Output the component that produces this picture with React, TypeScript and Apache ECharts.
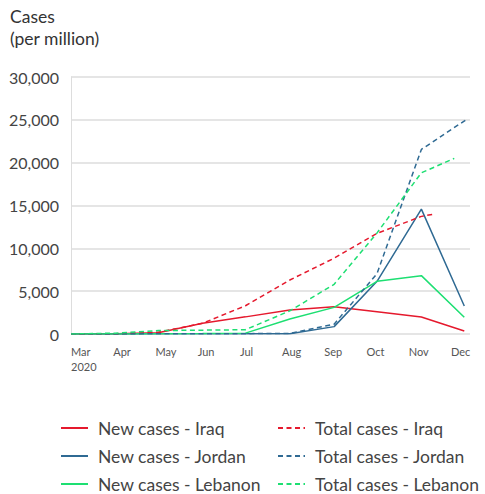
import React, { useEffect, useRef } from "react";
import * as echarts from "echarts";

const monthDates = [
  "2020-03-01", "2020-04-01", "2020-05-01", "2020-06-01", "2020-07-01",
  "2020-08-01", "2020-09-01", "2020-10-01", "2020-11-01", "2020-12-01",
];
const monthLabels = ["Mar\n2020", "Apr", "May", "Jun", "Jul", "Aug", "Sep", "Oct", "Nov", "Dec"];

const iraqNew = [0, 20, 150, 1250, 2000, 2800, 3190, 2600, 1980, 350];
const jordanNew = [0, 5, 20, 20, 30, 30, 860, 6150, 14580, 3270];
const lebanonNew = [0, 10, 30, 50, 100, 1750, 3110, 6150, 6810, 1950];

const iraqTotal = [0, 30, 200, 1250, 3300, 6300, 8850, 11750, 13730];
const jordanTotal = [0, 5, 20, 30, 40, 60, 1150, 7050, 21550];
const lebanonTotal = [0, 100, 400, 450, 500, 2700, 5800, 11800, 18820];
const iraqTotalLast = ["2020-11-09", 13970];
const jordanTotalLast = ["2020-12-03", 25090];
const lebanonTotalLast = ["2020-11-24", 20500];

const yTicks = [0, 5000, 10000, 15000, 20000, 25000, 30000];

const newNames = ["New cases - Iraq", "New cases - Jordan", "New cases - Lebanon"];
const totalNames = ["Total cases - Iraq", "Total cases - Jordan", "Total cases - Lebanon"];

const RED = "#e5192d";
const BLUE = "#2f6a93";
const GREEN = "#1ddf72";
const FONT = "Lato";

function pairs(values: number[], last?: (string | number)[]) {
  const d: (string | number)[][] = values.map((v, i) => [monthDates[i], v]);
  if (last) d.push(last);
  return d;
}

export default function App() {
  const ref = useRef<HTMLDivElement>(null);
  useEffect(() => {
    if (!ref.current) return;
    const chart = echarts.init(ref.current, undefined, { renderer: "svg" });
    const lineSeries = (name: string, color: string, data: any[], dashed: boolean) => ({
      name,
      type: "line",
      xAxisIndex: 0,
      yAxisIndex: 0,
      data,
      symbol: "none",
      color,
      lineStyle: { color, width: 1.5, type: dashed ? [5, 3.5] : "solid" },
    });
    const rowTops = [419, 447, 475];
    const legendItem = (name: string, left: number, top: number) => ({
      data: [name],
      left,
      top,
      padding: 0,
      itemWidth: 27,
      itemHeight: 14,
      itemStyle: { opacity: 0 },
      textStyle: { fontSize: 17.5, lineHeight: 18, color: "#444", fontFamily: FONT, padding: [0, 0, 0, 5] },
    });
    const legends = [
      ...newNames.map((n, i) => legendItem(n, 60, rowTops[i])),
      ...totalNames.map((n, i) => legendItem(n, 277, rowTops[i])),
    ];
    chart.setOption({
      animation: false,
      textStyle: { fontFamily: FONT },
      title: {
        text: "Cases\n(per million)",
        left: 10,
        top: 5,
        padding: 0,
        textStyle: { fontFamily: FONT, fontSize: 17.5, lineHeight: 22, fontWeight: "normal", color: "#333" },
      },
      grid: [
        { left: 71, right: 15, top: 77, bottom: 160 },
        { left: 71, right: 34, top: 77, bottom: 160 },
      ],
      xAxis: [
        {
          type: "time",
          gridIndex: 0,
          min: "2020-03-01",
          max: "2020-12-05",
          axisLine: { show: false },
          axisTick: { show: false },
          axisLabel: { show: false },
          splitLine: { show: false },
        },
        {
          type: "category",
          gridIndex: 1,
          data: monthLabels,
          boundaryGap: false,
          axisLine: { show: false },
          axisTick: { show: false },
          splitLine: { show: false },
          axisLabel: {
            align: "left",
            fontSize: 11,
            lineHeight: 15,
            color: "#555",
            margin: 10,
            fontFamily: FONT,
            interval: 0,
          },
        },
      ],
      yAxis: [
        {
          type: "value",
          gridIndex: 0,
          min: yTicks[0],
          max: yTicks[yTicks.length - 1],
          interval: yTicks[1] - yTicks[0],
          axisLine: { show: true, lineStyle: { color: "#ddd", width: 1 } },
          axisTick: { show: false },
          splitLine: { lineStyle: { color: "#ddd", width: 1.5 } },
          axisLabel: {
            fontSize: 16,
            color: "#444",
            margin: 12,
            fontFamily: FONT,
            formatter: (v: number) => v.toLocaleString("en-US"),
          },
        },
        { type: "value", gridIndex: 1, show: false, min: 0, max: 1 },
      ],
      legend: legends,
      series: [
        lineSeries(newNames[0], RED, pairs(iraqNew), false),
        lineSeries(newNames[1], BLUE, pairs(jordanNew), false),
        lineSeries(newNames[2], GREEN, pairs(lebanonNew), false),
        lineSeries(totalNames[0], RED, pairs(iraqTotal, iraqTotalLast), true),
        lineSeries(totalNames[1], BLUE, pairs(jordanTotal, jordanTotalLast), true),
        lineSeries(totalNames[2], GREEN, pairs(lebanonTotal, lebanonTotalLast), true),
      ],
    });
    return () => chart.dispose();
  }, []);
  return (
    <div
      ref={ref}
      style={{ position: "absolute", left: 0, top: 0, width: 485, height: 494 }}
    />
  );
}
